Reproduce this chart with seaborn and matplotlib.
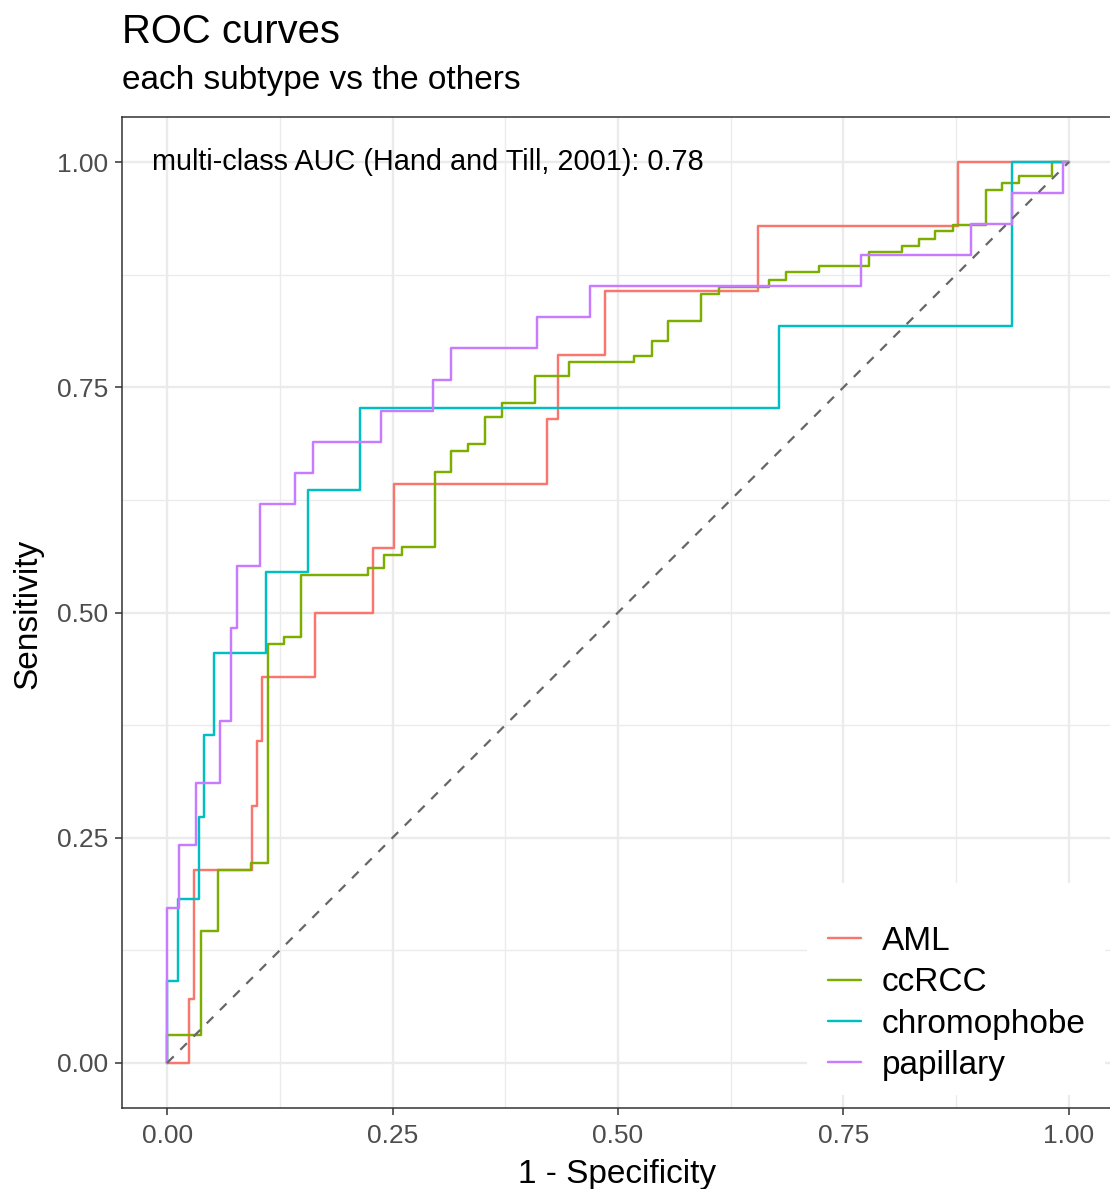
import numpy as np
import pandas as pd
import matplotlib
matplotlib.use("Agg")
import matplotlib.pyplot as plt
import seaborn as sns
from matplotlib.ticker import MultipleLocator, FormatStrFormatter
from matplotlib.patches import Rectangle

# ---------------- data (ROC step vertices: 1 - specificity, sensitivity) ----------------
classes = ["AML", "ccRCC", "chromophobe", "papillary"]
colors = ["#F8766D", "#7CAE00", "#00BFC4", "#C77CFF"]

aml_fpr = [0, 0.024, 0.0295, 0.094, 0.0997, 0.105, 0.164, 0.2285, 0.252, 0.4216,
           0.4338, 0.486, 0.655, 0.877, 1.0]
aml_tpr = [0, 1/14, 3/14, 4/14, 5/14, 6/14, 7/14, 8/14, 9/14, 10/14,
           11/14, 12/14, 13/14, 1.0, 1.0]

ccrcc_fpr = [0, 0, 0.0376, 0.0569, 0.093, 0.1115, 0.130, 0.149, 0.223, 0.2406,
             0.26, 0.2968, 0.3153, 0.3337, 0.3525, 0.371, 0.4079, 0.4455, 0.518, 0.538,
             0.5556, 0.5925, 0.6117, 0.667, 0.686, 0.723, 0.7778, 0.8154, 0.834, 0.852,
             0.871, 0.9077, 0.926, 0.9446, 0.9815, 1.0]
ccrcc_tpr = [0, 0.031, 0.146, 0.214, 0.222, 0.465, 0.473, 0.542, 0.549, 0.564,
             0.573, 0.656, 0.679, 0.687, 0.717, 0.732, 0.762, 0.778, 0.785, 0.801,
             0.824, 0.854, 0.861, 0.8695, 0.8776, 0.885, 0.900, 0.907, 0.915, 0.923,
             0.930, 0.969, 0.977, 0.985, 1.0, 1.0]

chromo_fpr = [0, 0, 0.0118, 0.035, 0.0413, 0.0524, 0.110, 0.1558, 0.2137, 0.679, 0.937, 1.0]
chromo_tpr = [0, 1/11, 2/11, 3/11, 4/11, 5/11, 6/11, 7/11, 8/11, 9/11, 1.0, 1.0]

pap_fpr = [0, 0, 0.0137, 0.032, 0.0587, 0.0709, 0.0775, 0.1034, 0.1418, 0.1613,
           0.237, 0.2953, 0.3145, 0.4105, 0.4688, 0.769, 0.891, 0.9365, 0.9937, 1.0]
pap_tpr = [0, 5/29, 7/29, 9/29, 11/29, 14/29, 16/29, 18/29, 19/29, 20/29,
           21/29, 22/29, 23/29, 24/29, 25/29, 26/29, 27/29, 28/29, 1.0, 1.0]

diag = [0, 1]
auc_label = "multi-class AUC (Hand and Till, 2001): 0.78"

frames = []
for name, f, t in zip(classes, [aml_fpr, ccrcc_fpr, chromo_fpr, pap_fpr],
                      [aml_tpr, ccrcc_tpr, chromo_tpr, pap_tpr]):
    frames.append(pd.DataFrame({"fpr": f, "tpr": t, "subtype": name}))
df = pd.concat(frames, ignore_index=True)

# ---------------- style ----------------
sns.set_style("white")
plt.rcParams['font.family'] = ['Liberation Sans', 'DejaVu Sans']
plt.rcParams['text.color'] = 'black'

W, H = 1110, 1189
fig = plt.figure(figsize=(W / 100, H / 100), dpi=100)
px = lambda x: x / W
py = lambda y: 1 - y / H
ax = fig.add_axes([px(122), py(1108), (1114 - 122) / W, (1108 - 117) / H])

ax.set_xlim(-0.05, 1.05)
ax.set_ylim(-0.05, 1.05)
ax.xaxis.set_major_locator(MultipleLocator(0.25))
ax.yaxis.set_major_locator(MultipleLocator(0.25))
ax.xaxis.set_minor_locator(MultipleLocator(0.125))
ax.yaxis.set_minor_locator(MultipleLocator(0.125))
ax.xaxis.set_major_formatter(FormatStrFormatter("%.2f"))
ax.yaxis.set_major_formatter(FormatStrFormatter("%.2f"))
ax.grid(which="major", color="#EBEBEB", linewidth=1.7)
ax.grid(which="minor", color="#EBEBEB", linewidth=1.0)
ax.set_axisbelow(True)
for s in ax.spines.values():
    s.set_color("#333333")
    s.set_linewidth(1.1)
ax.tick_params(axis="both", which="major", length=5, width=1.1, color="#333333",
               labelsize=19, labelcolor="#4D4D4D", pad=5, bottom=True, left=True)
ax.tick_params(axis="x", pad=6.5)
ax.tick_params(which="minor", length=0)

sns.lineplot(data=df, x="fpr", y="tpr", hue="subtype", hue_order=classes,
             palette=dict(zip(classes, colors)), estimator=None, sort=False,
             units="subtype", drawstyle="steps-post", linewidth=1.75, ax=ax, zorder=3)

ax.plot(diag, diag, color="#666666", linewidth=1.6, dashes=(4.2, 4.2), zorder=4)

ax.text(-0.0166, 1.0, auc_label, ha="left", va="center", fontsize=20.8, color="black", zorder=5)

ax.set_xlabel("")
ax.set_ylabel("")

handles, labels = ax.get_legend_handles_labels()
if ax.get_legend() is not None:
    ax.get_legend().remove()

# white legend background box
fig.patches.append(Rectangle((px(807), py(1095)), (1105 - 807) / W, (1095 - 883) / H,
                             transform=fig.transFigure, facecolor="white",
                             edgecolor="none", zorder=2))
leg = fig.legend(handles, labels, loc="center left", bbox_to_anchor=(px(828), py(1003.5)),
                 frameon=False, fontsize=24, handlelength=1.0, handletextpad=0.62,
                 labelspacing=0.31, borderpad=0, borderaxespad=0)
for h in leg.legend_handles:
    h.set_linewidth(1.75)
for t in leg.get_texts():
    t.set_color("black")
leg.set_zorder(6)

fig.text(px(122), py(43), "ROC curves", fontsize=28.8, ha="left", va="baseline", color="black")
fig.text(px(122), py(89), "each subtype vs the others", fontsize=24, ha="left", va="baseline", color="black")
fig.text(px(617), py(1183), "1 - Specificity", fontsize=24, ha="center", va="baseline", color="black")
fig.text(px(28), py(614), "Sensitivity", fontsize=24, rotation=90, ha="center", va="center", color="black")

fig.savefig("out.png", dpi=100)
